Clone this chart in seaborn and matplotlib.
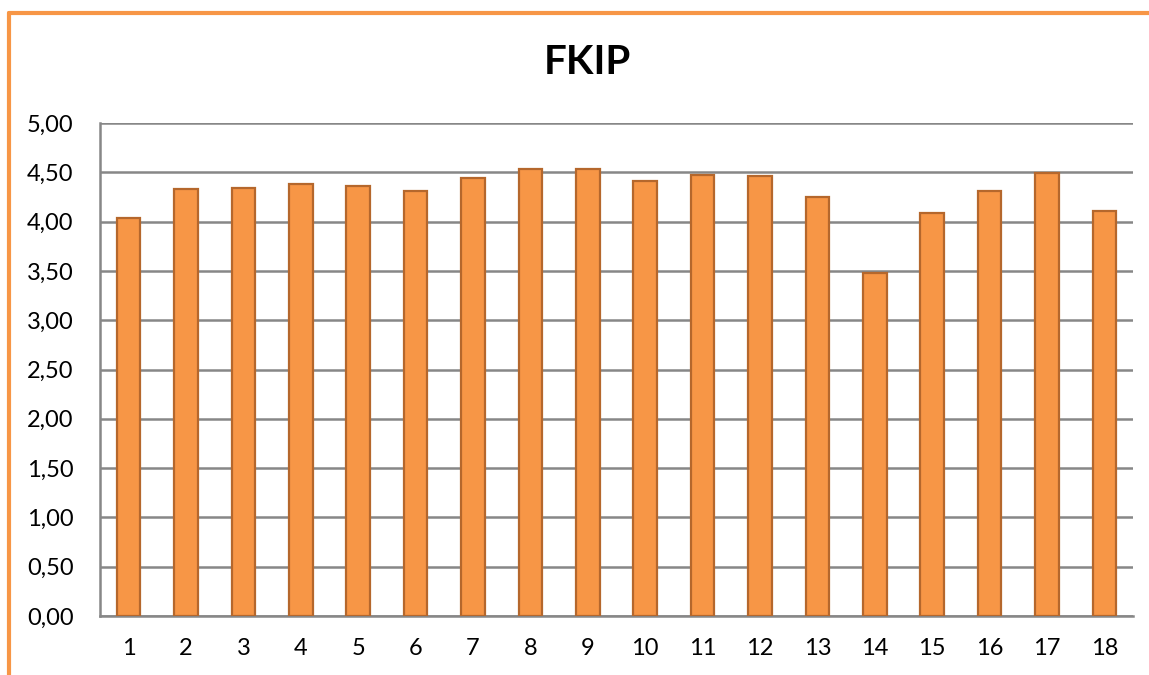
import numpy as np
import pandas as pd
import seaborn as sns
import matplotlib.pyplot as plt
from matplotlib.lines import Line2D

# values
categories = [str(i) for i in range(1, 19)]
scores = [4.04, 4.33, 4.34, 4.38, 4.36, 4.31, 4.44, 4.53, 4.53,
          4.41, 4.47, 4.46, 4.25, 3.48, 4.09, 4.31, 4.49, 4.11]
y_ticks = [0.0, 0.5, 1.0, 1.5, 2.0, 2.5, 3.0, 3.5, 4.0, 4.5, 5.0]
y_labels = ["0,00", "0,50", "1,00", "1,50", "2,00", "2,50",
            "3,00", "3,50", "4,00", "4,50", "5,00"]

df = pd.DataFrame({"no": categories, "score": scores})

sns.set_style("white")
plt.rcParams["font.family"] = ["Lato", "DejaVu Sans"]

W, H = 1149, 675
fig = plt.figure(figsize=(W / 100, H / 100), dpi=100)
ax = fig.add_axes([100 / W, (H - 616) / H, 1033 / W, 493 / H])

grid_c = "#878787"
sns.barplot(data=df, x="no", y="score", ax=ax, width=0.41,
            color="#F79646", saturation=1, edgecolor="#B5672C",
            linewidth=1.6, zorder=3)

ax.set_ylim(0, 5)
ax.set_xlim(-0.5, 17.5)
ax.set_yticks(y_ticks)
ax.set_yticklabels(y_labels)
ax.yaxis.grid(True, color=grid_c, linewidth=1.8, zorder=0)
ax.set_axisbelow(True)
ax.set_xlabel("")
ax.set_ylabel("")

for s in ["top", "right"]:
    ax.spines[s].set_visible(False)
for s in ["left", "bottom"]:
    ax.spines[s].set_color(grid_c)
    ax.spines[s].set_linewidth(1.8)

ax.tick_params(axis="y", length=7, width=1.8, color=grid_c,
               labelsize=17, pad=12, labelcolor="black")
ax.tick_params(axis="x", which="major", length=0, labelsize=17,
               pad=16, labelcolor="black")
ax.set_xticks(np.arange(-0.5, 18, 1), minor=True)
ax.tick_params(axis="x", which="minor", length=7, width=1.8, color=grid_c)

fig.text(587 / W, 1 - 62 / H, "FKIP", ha="center", va="center",
         fontsize=29, fontweight="bold", color="black")

# orange chart-area border (top and left edges visible)
border = "#F79646"
fig.add_artist(Line2D([9 / W, 1], [1 - 13 / H, 1 - 13 / H],
                      color=border, linewidth=3, transform=fig.transFigure))
fig.add_artist(Line2D([9 / W, 9 / W], [0, 1 - 13 / H],
                      color=border, linewidth=3, transform=fig.transFigure))

fig.savefig("out.png", dpi=100)
